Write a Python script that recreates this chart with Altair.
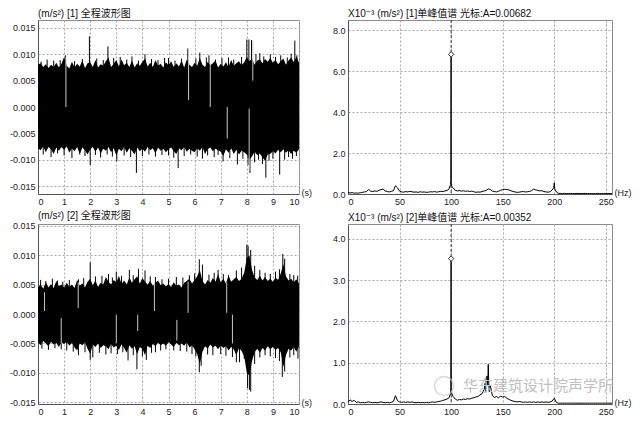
import altair as alt
import pandas as pd
import numpy as np

# ---------------- waveform data (units: 1e-3 m/s^2) ----------------
t_env = [round(i * 0.1, 1) for i in range(101)]

w1_upper = [8.0, 8.3, 7.6, 8.1, 7.4, 8.0, 7.6, 8.4, 7.5, 8.2,
            9.5, 7.8, 7.3, 8.6, 7.5, 8.2, 7.7, 8.8, 7.4, 8.3,
            8.5, 7.6, 8.9, 7.5, 8.1, 7.8, 8.7, 9.4, 7.6, 8.2,
            8.9, 7.7, 9.0, 7.9, 8.4, 7.6, 8.8, 7.5, 8.3, 7.8,
            8.6, 9.2, 7.7, 8.4, 7.6, 8.9, 7.8, 8.2, 7.5, 8.5,
            7.9, 8.7, 7.6, 8.3, 7.7, 8.8, 7.5, 9.0, 8.0, 7.6,
            8.4, 7.8, 9.3, 8.0, 7.6, 8.6, 7.9, 8.3, 8.8, 7.5,
            8.2, 7.7, 8.5, 7.6, 8.9, 7.8, 8.3, 8.7, 7.9, 8.5,
            9.5, 8.7, 9.2, 8.0, 8.8, 9.0, 8.3, 9.1, 8.6, 9.3,
            8.4, 8.9, 8.1, 8.7, 9.2, 8.0, 8.8, 9.4, 8.5, 9.6,
            8.4]
w1_lower = [-7.8, -8.2, -7.5, -8.6, -7.6, -8.0, -8.9, -7.7, -8.3, -7.6,
            -8.1, -7.5, -8.7, -7.8, -8.4, -7.6, -8.9, -7.7, -8.2, -9.0,
            -8.0, -7.6, -8.5, -7.7, -8.8, -7.9, -8.3, -7.6, -8.6, -7.8,
            -9.2, -7.9, -8.4, -7.6, -8.7, -7.8, -8.3, -9.0, -7.7, -8.4,
            -7.9, -8.5, -7.6, -8.2, -7.8, -8.8, -7.7, -8.3, -7.9, -8.6,
            -8.0, -7.7, -8.4, -8.9, -7.8, -8.2, -7.6, -8.5, -7.9, -8.3,
            -8.6, -7.8, -8.3, -7.6, -8.9, -8.0, -7.7, -8.4, -7.9, -8.2,
            -8.5, -9.3, -8.0, -8.7, -7.8, -8.9, -8.1, -9.0, -8.3, -8.6,
            -9.0, -10.0, -9.4, -8.5, -9.1, -8.8, -9.6, -10.2, -9.0, -8.9,
            -8.4, -8.8, -8.1, -8.6, -8.0, -8.7, -8.2, -8.9, -8.3, -8.7,
            -8.0]
w1_spike_t = [0.12, 0.35, 0.6, 0.85, 1.05, 1.4, 1.7, 1.97, 2.25, 2.5, 2.68, 2.9,
              3.15, 3.4, 3.6, 3.85, 4.1, 4.35, 4.6, 4.85, 5.0, 5.25, 5.5, 5.74,
              6.05, 6.2, 6.45, 6.55, 6.8, 7.05, 7.3, 7.5, 7.8, 8.0, 8.08, 8.18,
              8.35, 8.5, 8.65, 8.9, 9.1, 9.3, 9.55, 9.7, 9.84, 9.92,
              0.2, 0.5, 0.75, 1.0, 1.3, 1.6, 1.8, 2.0, 2.2, 2.4, 2.65, 2.85,
              3.02, 3.3, 3.55, 3.77, 4.0, 4.25, 4.5, 4.75, 5.0, 5.2, 5.37, 5.6,
              5.85, 6.1, 6.3, 6.5, 6.75, 6.9, 7.09, 7.35, 7.64, 7.85, 8.05, 8.12,
              8.3, 8.45, 8.6, 8.73, 8.85, 9.0, 9.26, 9.45, 9.6, 9.75, 9.9]
w1_spike_v = [8.6, 9.0, 8.8, 8.9, 9.8, 8.7, 9.1, 13.4, 9.2, 8.9, 11.5, 9.3,
              9.5, 9.0, 9.6, 8.8, 10.0, 9.1, 8.9, 9.3, 9.3, 8.8, 9.2, 11.1,
              9.2, 10.3, 9.4, 9.8, 9.0, 9.3, 9.4, 9.0, 9.5, 12.8, 12.8, 12.7,
              10.0, 10.2, 9.6, 10.0, 9.5, 9.8, 9.4, 10.1, 12.6, 9.8,
              -9.0, -9.5, -8.8, -9.2, -9.7, -9.0, -9.3, -11.0, -9.1, -9.6, -9.0, -9.4,
              -10.3, -9.2, -9.5, -12.5, -9.3, -9.0, -9.4, -9.1, -9.2, -9.6, -11.6, -9.3,
              -9.0, -9.4, -9.8, -9.2, -9.5, -9.1, -10.3, -9.7, -10.9, -9.8, -11.0, -12.5,
              -10.5, -10.0, -10.8, -13.4, -10.2, -9.8, -12.8, -10.0, -9.5, -9.8, -9.3]
w1_gap_t = [1.07, 5.77, 6.6, 7.25, 8.09, 8.23]
w1_gap_lo = [0.0, 1.3, 0.0, -6.0, -12.0, 5.0]
w1_gap_hi = [9.5, 11.0, 8.0, 0.0, -0.3, 12.5]

w2_upper = [4.6, 5.0, 4.3, 5.4, 4.5, 5.1, 4.4, 5.6, 4.7, 5.0,
            4.5, 5.3, 4.6, 5.0, 4.4, 5.8, 4.8, 5.2, 4.5, 5.5,
            6.0, 4.9, 5.7, 4.6, 5.3, 5.0, 6.3, 5.5, 5.0, 5.8,
            5.4, 6.5, 5.1, 5.7, 5.0, 6.2, 5.3, 5.9, 6.4, 5.2,
            6.1, 5.5, 5.0, 5.6, 4.8, 5.3, 5.7, 4.9, 5.2, 4.7,
            5.1, 4.6, 5.4, 4.8, 5.0, 4.5, 5.3, 5.6, 6.0, 5.2,
            5.8, 6.4, 7.5, 5.6, 5.0, 5.8, 5.3, 6.1, 5.5, 6.8,
            5.4, 6.0, 5.2, 6.6, 5.5, 5.9, 6.3, 5.6, 6.0, 7.0,
            9.5, 10.0, 7.5, 6.2, 5.8, 6.5, 5.7, 6.3, 5.6, 6.0,
            5.5, 6.2, 5.8, 6.9, 8.5, 6.4, 5.7, 6.0, 5.4, 5.9,
            5.2]
w2_lower = [-4.8, -5.3, -4.6, -5.0, -5.5, -4.7, -5.2, -4.9, -5.6, -4.8,
            -5.1, -4.7, -5.4, -4.9, -5.7, -6.2, -5.0, -5.3, -4.8, -5.9,
            -6.8, -5.2, -5.6, -5.0, -5.8, -5.3, -5.5, -6.0, -5.1, -5.7,
            -5.4, -6.1, -5.2, -5.8, -6.6, -5.3, -5.9, -5.5, -6.8, -5.6,
            -5.9, -7.0, -5.4, -5.8, -5.1, -5.5, -4.9, -5.3, -5.0, -5.4,
            -4.8, -5.2, -5.6, -4.9, -5.3, -5.0, -5.4, -4.8, -5.7, -5.3,
            -6.0, -6.8, -8.5, -6.4, -5.5, -5.9, -5.2, -5.7, -5.4, -6.0,
            -5.3, -5.8, -5.5, -6.2, -5.6, -6.0, -7.0, -5.8, -6.3, -7.2,
            -10.0, -10.5, -8.0, -6.5, -5.9, -6.6, -5.8, -6.2, -5.5, -6.0,
            -5.6, -6.1, -5.8, -6.5, -9.0, -7.0, -5.9, -6.2, -5.6, -6.4,
            -5.5]
w2_spike_t = [0.1, 0.3, 0.55, 0.75, 0.95, 1.2, 1.55, 1.75, 2.0, 2.2, 2.45, 2.7,
              2.85, 3.0, 3.2, 3.5, 3.65, 3.85, 4.1, 4.3, 4.5, 4.75, 5.0, 5.3,
              5.55, 5.8, 6.0, 6.18, 6.3, 6.55, 6.75, 6.9, 7.1, 7.3, 7.6, 7.8,
              8.0, 8.05, 8.15, 8.3, 8.5, 8.7, 8.9, 9.1, 9.25, 9.38, 9.45, 9.65,
              9.8, 9.95,
              0.15, 0.4, 0.65, 0.89, 1.1, 1.35, 1.55, 1.8, 2.0, 2.1, 2.35, 2.6,
              2.8, 3.05, 3.25, 3.45, 3.65, 3.79, 4.0, 4.15, 4.35, 4.5, 4.7, 4.9,
              5.2, 5.45, 5.7, 5.9, 6.05, 6.18, 6.25, 6.5, 6.7, 7.0, 7.2, 7.45,
              7.6, 7.72, 7.9, 8.03, 8.1, 8.15, 8.3, 8.5, 8.7, 8.9, 9.1, 9.25,
              9.36, 9.45, 9.65, 9.8, 9.96]
w2_spike_v = [5.8, 5.6, 6.0, 5.7, 5.5, 5.8, 5.9, 6.1, 8.8, 6.4, 6.5, 6.8,
              6.2, 7.2, 6.5, 7.5, 6.6, 7.7, 7.4, 6.4, 6.3, 5.9, 6.0, 6.3,
              6.2, 6.6, 6.9, 9.3, 8.4, 6.7, 7.0, 7.5, 6.8, 6.6, 7.4, 7.9,
              11.8, 11.6, 10.9, 8.2, 7.5, 7.0, 6.8, 7.2, 7.6, 10.2, 9.4, 6.8,
              6.6, 6.5,
              -5.9, -6.1, -5.8, -6.0, -6.2, -6.4, -7.0, -6.5, -7.8, -7.4, -6.6, -6.9,
              -6.7, -6.8, -6.5, -7.9, -7.0, -9.4, -7.2, -7.8, -6.6, -6.5, -6.2, -6.0,
              -6.2, -6.3, -6.4, -6.8, -7.2, -9.9, -8.8, -6.9, -7.0, -6.8, -7.1, -7.3,
              -8.2, -8.2, -7.6, -12.6, -12.9, -13.2, -8.5, -7.4, -7.0, -7.2, -7.5, -8.0,
              -10.7, -9.8, -7.4, -7.0, -7.6]
w2_gap_t = [0.25, 0.89, 1.54, 3.0, 3.82, 4.46, 5.32, 5.75, 7.23, 7.45]
w2_gap_lo = [0.5, -5.0, 1.0, -5.0, -2.9, 0.5, -4.5, 0.2, 0.2, -5.0]
w2_gap_hi = [3.7, -0.7, 5.4, -0.1, -0.1, 5.4, -1.0, 5.5, 5.4, -0.1]

# ---------------- spectrum data (units: 1e-3 m/s^2) ----------------
f_base = list(range(0, 257, 2))
s1_amp = [0.08, 0.05, 0.07, 0.04, 0.05, 0.04, 0.06, 0.08, 0.10, 0.12,
          0.22, 0.14, 0.12, 0.15, 0.13, 0.18, 0.21, 0.24, 0.15, 0.12,
          0.10, 0.13, 0.16, 0.40, 0.30, 0.14, 0.10, 0.09, 0.12, 0.10,
          0.13, 0.11, 0.09, 0.10, 0.08, 0.11, 0.09, 0.10, 0.08, 0.09,
          0.11, 0.10, 0.12, 0.09, 0.11, 0.13, 0.12, 0.15, 0.17, 0.25,
          6.82, 0.30, 0.18, 0.15, 0.17, 0.14, 0.16, 0.13, 0.15, 0.12,
          0.14, 0.11, 0.08, 0.10, 0.09, 0.12, 0.15, 0.17, 0.25, 0.22,
          0.14, 0.12, 0.10, 0.14, 0.18, 0.21, 0.23, 0.22, 0.20, 0.16,
          0.12, 0.10, 0.08, 0.09, 0.11, 0.12, 0.10, 0.11, 0.13, 0.16,
          0.24, 0.20, 0.18, 0.15, 0.16, 0.12, 0.10, 0.09, 0.11, 0.20,
          0.55, 0.10, 0.03, 0.03, 0.02, 0.03, 0.02, 0.02, 0.03, 0.02,
          0.02, 0.03, 0.02, 0.02, 0.02, 0.03, 0.02, 0.02, 0.02, 0.02,
          0.02, 0.03, 0.02, 0.02, 0.02, 0.02, 0.02, 0.02, 0.02]
s1_extra_f = [99.4, 99.7, 99.85, 100.15, 100.4, 100.7, 199.5, 200.5]
s1_extra_a = [0.45, 0.70, 3.70, 0.60, 0.50, 0.35, 0.30, 0.25]

s2_amp = [0.05, 0.10, 0.06, 0.09, 0.04, 0.05, 0.03, 0.04, 0.03, 0.04,
          0.05, 0.04, 0.03, 0.04, 0.03, 0.04, 0.05, 0.04, 0.03, 0.04,
          0.03, 0.04, 0.06, 0.20, 0.08, 0.05, 0.04, 0.05, 0.04, 0.05,
          0.04, 0.05, 0.04, 0.03, 0.04, 0.03, 0.04, 0.03, 0.04, 0.03,
          0.04, 0.05, 0.04, 0.05, 0.06, 0.07, 0.09, 0.10, 0.12, 0.15,
          3.52, 0.18, 0.12, 0.09, 0.11, 0.10, 0.12, 0.11, 0.13, 0.12,
          0.14, 0.15, 0.17, 0.18, 0.22, 0.25, 0.35, 0.64, 0.96, 0.45,
          0.20, 0.16, 0.18, 0.15, 0.19, 0.17, 0.18, 0.14, 0.11, 0.09,
          0.07, 0.06, 0.05, 0.06, 0.05, 0.04, 0.05, 0.04, 0.05, 0.04,
          0.05, 0.04, 0.05, 0.04, 0.05, 0.04, 0.05, 0.04, 0.05, 0.07,
          0.14, 0.04, 0.02, 0.02, 0.02, 0.02, 0.02, 0.02, 0.02, 0.02,
          0.02, 0.02, 0.02, 0.02, 0.02, 0.02, 0.02, 0.02, 0.02, 0.02,
          0.02, 0.02, 0.02, 0.02, 0.02, 0.02, 0.02, 0.02, 0.02]
s2_extra_f = [99.4, 99.7, 99.85, 100.15, 100.4, 100.7, 133.0, 133.5, 135.0, 135.5, 136.5, 137.0]
s2_extra_a = [0.25, 0.40, 2.00, 0.40, 0.30, 0.25, 0.50, 0.30, 0.68, 0.45, 0.50, 0.30]

cursor_f = 100
s1_peak = 6.82
s2_peak = 3.52

titles = ["(m/s²)  [1] 全程波形图",
          "X10⁻³ (m/s²)  [1]单峰值谱 光标:A=0.00682",
          "(m/s²)  [2] 全程波形图",
          "X10⁻³ (m/s²)  [2]单峰值谱 光标:A=0.00352"]
watermark = "华东建筑设计院声学所"

LW, RW = 261, 264
TH, BH = 174, 180
FONT = "Liberation Sans"
TFONT = "Liberation Sans, Noto Sans CJK SC, DejaVu Sans"
MINUS = "replace(datum.label, '\u2212', '-')"


def wave_panel(upper, lower, st, sv, gt, glo, ghi, title, ydom, W, H):
    env = pd.DataFrame({"t": t_env, "up": np.array(upper) / 1000, "lo": np.array(lower) / 1000})
    spk = pd.DataFrame({"t": st, "v": np.array(sv) / 1000})
    gap = pd.DataFrame({"t": gt, "lo": np.array(glo) / 1000, "hi": np.array(ghi) / 1000})
    xs = alt.Scale(domain=[0, 10], nice=False, zero=False)
    ys = alt.Scale(domain=ydom, nice=False, zero=False)
    xax = alt.Axis(values=list(range(11)), format="d", title="(s)", titleX=W + 2, titleY=3,
                   titleAlign="left", titleBaseline="bottom", titleAngle=0)
    yax = alt.Axis(values=[-0.015, -0.01, -0.005, 0, 0.005, 0.01, 0.015], format=".3f",
                   labelExpr=MINUS, title=None)
    X = alt.X("t:Q", scale=xs, axis=xax)
    area = alt.Chart(env).mark_area(color="black", interpolate="linear").encode(
        x=X, y=alt.Y("up:Q", scale=ys, axis=yax), y2="lo:Q")
    spikes = alt.Chart(spk).mark_rule(color="black", strokeWidth=1).encode(
        x=X, y=alt.Y("v:Q", scale=ys, axis=yax), y2=alt.datum(0))
    gaps = alt.Chart(gap).mark_rule(color="#c8c8c8", strokeWidth=1).encode(
        x=X, y=alt.Y("lo:Q", scale=ys, axis=yax), y2="hi:Q")
    return alt.layer(area, spikes, gaps).properties(width=W, height=H, title=title)


def spec_panel(amp, ef, ea, peak, title, ydom, yvals, W, H, wm=False):
    df = pd.DataFrame({"f": f_base + ef, "a": amp + ea}).sort_values("f")
    xs = alt.Scale(domain=[0, 256], nice=False, zero=False)
    ys = alt.Scale(domain=ydom, nice=False, zero=False)
    xax = alt.Axis(values=[0, 50, 100, 150, 200, 250], format="d", title="(Hz)", titleX=W + 2,
                   titleY=3, titleAlign="left", titleBaseline="bottom", titleAngle=0)
    yax = alt.Axis(values=yvals, format=".1f", title=None)
    X = alt.X("f:Q", scale=xs, axis=xax)
    Y = alt.Y("a:Q", scale=ys, axis=yax)
    line = alt.Chart(df).mark_line(color="black", strokeWidth=1).encode(x=X, y=Y)
    cur = alt.Chart(pd.DataFrame({"f": [cursor_f]})).mark_rule(
        color="#333", strokeDash=[3, 2], strokeWidth=1).encode(x=X)
    mk = alt.Chart(pd.DataFrame({"f": [cursor_f], "a": [peak]})).mark_point(
        shape="diamond", filled=True, fill="white", stroke="#333", strokeWidth=1,
        size=30, opacity=1).encode(x=X, y=Y)
    layers = [line, cur, mk]
    if wm:
        logo = alt.Chart(pd.DataFrame({"s": [watermark]})).mark_point(
            shape="circle", filled=False, color="#c8c8c8", size=360, strokeWidth=1.5).encode(
            x=alt.value(96), y=alt.value(H - 18))
        txt = alt.Chart(pd.DataFrame({"s": [watermark]})).mark_text(
            align="left", baseline="middle", fontSize=15, color="#c0c0c0",
            font="Noto Sans CJK SC").encode(
            text="s:N", x=alt.value(115), y=alt.value(H - 18))
        layers += [logo, txt]
    return alt.layer(*layers).properties(width=W, height=H, title=title)


p1 = wave_panel(w1_upper, w1_lower, w1_spike_t, w1_spike_v, w1_gap_t, w1_gap_lo, w1_gap_hi,
                titles[0], [-0.0165, 0.0165], LW, TH)
p2 = spec_panel(s1_amp, s1_extra_f, s1_extra_a, s1_peak, titles[1], [0, 8.5],
                [0, 2, 4, 6, 8], RW, TH)
p3 = wave_panel(w2_upper, w2_lower, w2_spike_t, w2_spike_v, w2_gap_t, w2_gap_lo, w2_gap_hi,
                titles[2], [-0.0153, 0.0153], LW, BH)
p4 = spec_panel(s2_amp, s2_extra_f, s2_extra_a, s2_peak, titles[3], [0, 4.36],
                [0, 1, 2, 3, 4], RW, BH, wm=True)

chart = alt.concat(p1, p2, p3, p4, columns=2, spacing={"row": 30, "column": 49},
                   bounds="flush").properties(
    padding={"left": 0, "top": 0, "right": 0, "bottom": 0}
).configure_view(stroke="#8c8c8c", strokeWidth=1).configure_axis(
    labelFont=FONT, labelFontSize=9, labelColor="#222", domainColor="#555",
    gridColor="#a8a8a8", gridDash=[2, 2], gridWidth=1, ticks=False, labelPadding=3,
    titleFont=FONT, titleFontSize=9, titleFontWeight="normal", titleColor="#222"
).configure_title(
    font=TFONT, fontSize=10, fontWeight="normal", anchor="start", frame="group",
    offset=1, color="#111"
)

chart.save("out.html", embed_options={"renderer": "svg", "actions": False})
